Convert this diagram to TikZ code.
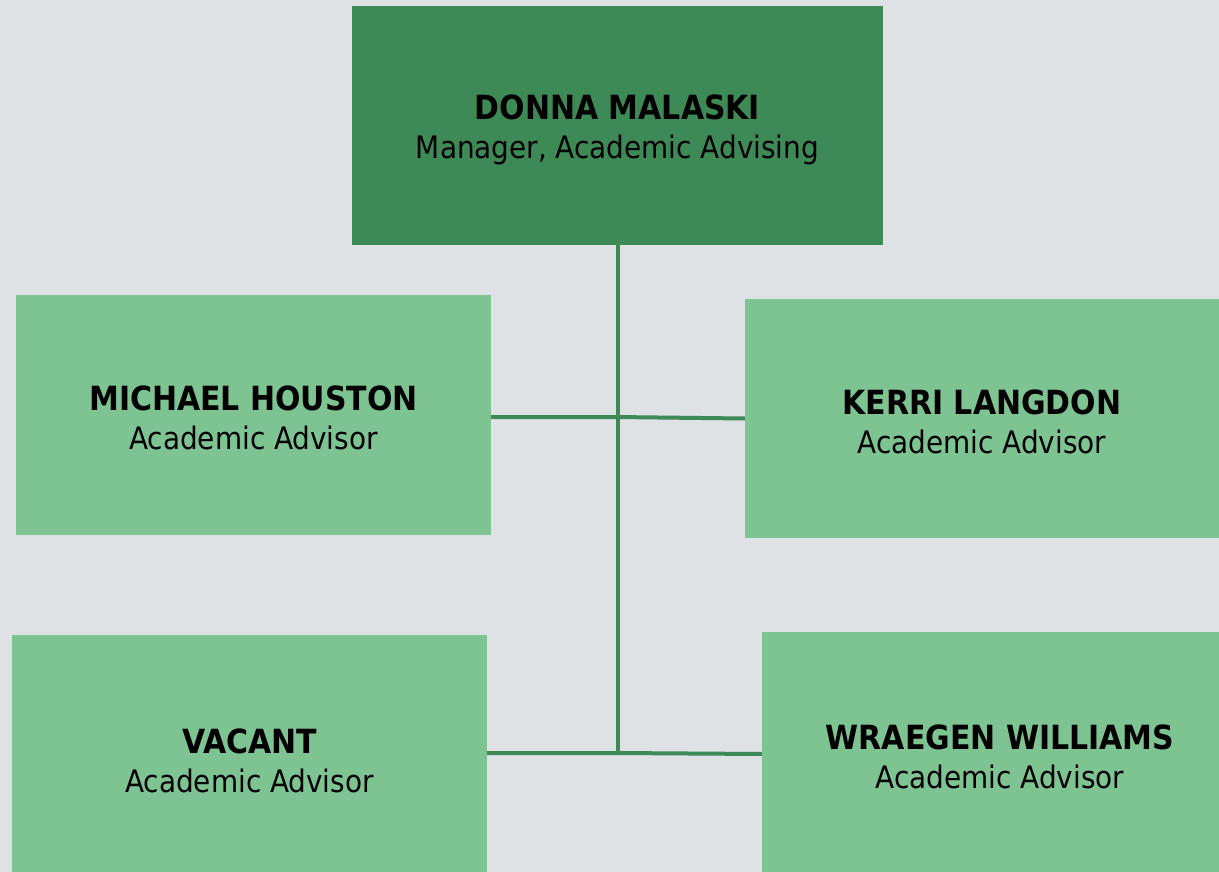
\documentclass[tikz,border=0pt]{standalone}
\usepackage{fontspec}
\setmainfont{DejaVu Sans Condensed}
\definecolor{bgc}{HTML}{DFE2E5}
\definecolor{darkg}{HTML}{3E8A56}
\definecolor{lightg}{HTML}{7EC493}
\tikzset{
  box/.style={fill=#1, inner sep=0pt},
  head/.style={box=darkg},
  staff/.style={box=lightg},
  txt/.style={inner sep=0pt, align=center, text=black,
    font=\fontsize{31}{39}\selectfont},
  conn/.style={draw=darkg, line width=4pt},
}
\newcommand{\pname}[1]{{\fontsize{33.3}{39}\selectfont\bfseries #1}}
\begin{document}
\begin{tikzpicture}[x=1pt,y=-1pt]
\fill[bgc] (0,0) rectangle (1219,872);
\useasboundingbox (0,0) rectangle (1219,872);
\clip (0,0) rectangle (1219,872);
\node[head, minimum width=531pt, minimum height=239pt] (dm) at (617.5,125.5) {};
\node[staff, minimum width=475pt, minimum height=240pt] (mh) at (253.5,415) {};
\node[staff, minimum width=474pt, minimum height=239pt] (kl) at (982,418.5) {};
\node[staff, minimum width=475pt, minimum height=250pt] (va) at (249.5,760) {};
\node[staff, minimum width=476pt, minimum height=248pt] (ww) at (1000,756) {};
\node[txt] (dmt) at ([yshift=-4pt]dm.center) {\pname{DONNA MALASKI}\\Manager, Academic Advising};
\node[txt] (mht) at ([yshift=-3pt]mh.center) {\pname{MICHAEL HOUSTON}\\Academic Advisor};
\node[txt] (klt) at ([yshift=-3pt]kl.center) {\pname{KERRI LANGDON}\\Academic Advisor};
\node[txt] (vat) at ([yshift=-1pt]va.center) {\pname{VACANT}\\Academic Advisor};
\node[txt] (wwt) at ([yshift=-1pt]ww.center) {\pname{WRAEGEN WILLIAMS}\\Academic Advisor};
\coordinate (j1) at (615,417);
\coordinate (j2) at (616,753);
\draw[conn] (dm.south) -- (dm.south |- j2);
\draw[conn] (mh.east |- j1) -- (j1) -- (kl.west);
\draw[conn] (va.east |- j2) -- (j2) -- (ww.west |- 0,754);
\end{tikzpicture}
\end{document}
